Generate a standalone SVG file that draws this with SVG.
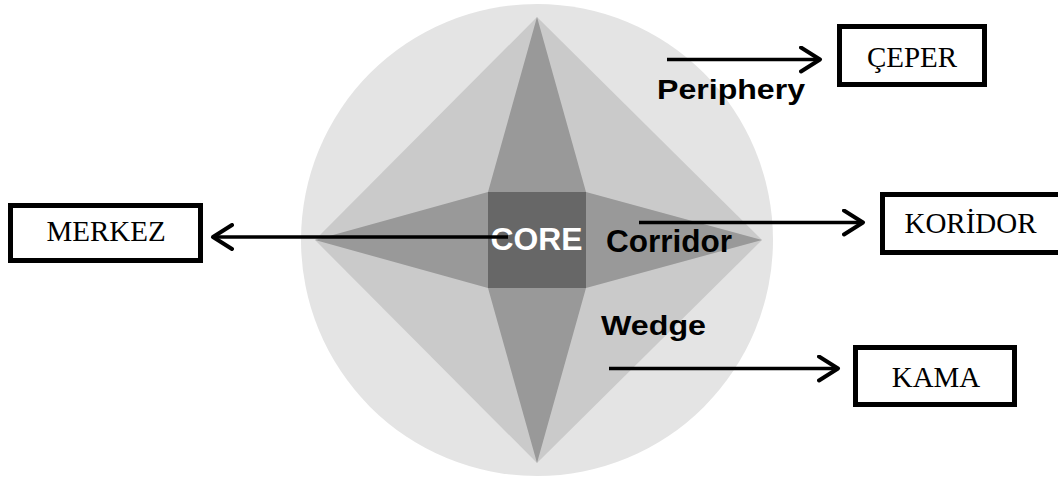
<svg xmlns="http://www.w3.org/2000/svg" width="1058" height="477" viewBox="0 0 1058 477">
<defs>
<style>
.box{fill:#fff;stroke:#000;stroke-width:5}
.lbl{font-family:"Liberation Serif","Times New Roman",serif;font-size:29px;fill:#000;text-anchor:middle}
.zone{font-family:"Liberation Sans",Arial,sans-serif;font-weight:bold;fill:#000}
.conn{stroke:#000;stroke-width:3.5;fill:none}
</style>
<marker id="chev" viewBox="0 0 24 28" refX="21" refY="14" markerWidth="24" markerHeight="28" markerUnits="userSpaceOnUse" orient="auto">
<path d="M2,2 L21,14 L2,26" fill="none" stroke="#000" stroke-width="4" stroke-linecap="round" stroke-linejoin="round"/>
</marker>
</defs>
<rect width="1058" height="477" fill="#fff"/>
<g id="diagram">
<circle cx="537" cy="240" r="236" fill="#e4e4e4"/>
<polygon points="537,17 762,240 537,463 315,240" fill="#cacaca"/>
<polygon points="537,17 586,192 762,240 586,288 537,463 488,288 315,240 488,192" fill="#999999"/>
<rect x="488" y="192" width="98" height="96" fill="#676767"/>
<text class="zone" x="490.5" y="250" font-size="32" style="fill:#fff" textLength="92" lengthAdjust="spacingAndGlyphs">CORE</text>
<text class="zone" x="606" y="251.5" font-size="31" textLength="126" lengthAdjust="spacingAndGlyphs">Corridor</text>
<text class="zone" x="657" y="98.5" font-size="28.5" textLength="148" lengthAdjust="spacingAndGlyphs">Periphery</text>
<text class="zone" x="601" y="334.5" font-size="28.5" textLength="105" lengthAdjust="spacingAndGlyphs">Wedge</text>
</g>
<g id="node-ceper">
<rect class="box" x="839.5" y="26.5" width="145" height="58"/>
<text class="lbl" x="912" y="66.5">ÇEPER</text>
</g>
<g id="node-koridor">
<rect class="box" x="882.5" y="194.5" width="190" height="58"/>
<text class="lbl" x="970.5" y="233">KORİDOR</text>
</g>
<g id="node-kama">
<rect class="box" x="855.5" y="347.5" width="159" height="57"/>
<text class="lbl" x="936" y="387">KAMA</text>
</g>
<g id="node-merkez">
<rect class="box" x="10.5" y="205.5" width="190" height="55"/>
<text class="lbl" x="106" y="240.5">MERKEZ</text>
</g>
<g id="connectors">
<line class="conn" x1="667" y1="59.5" x2="820" y2="59.5" marker-end="url(#chev)"/>
<line class="conn" x1="639" y1="222.5" x2="863" y2="222.5" marker-end="url(#chev)"/>
<line class="conn" x1="609" y1="368.5" x2="838" y2="368.5" marker-end="url(#chev)"/>
<line class="conn" x1="508" y1="237" x2="213" y2="237" marker-end="url(#chev)"/>
</g>
</svg>
